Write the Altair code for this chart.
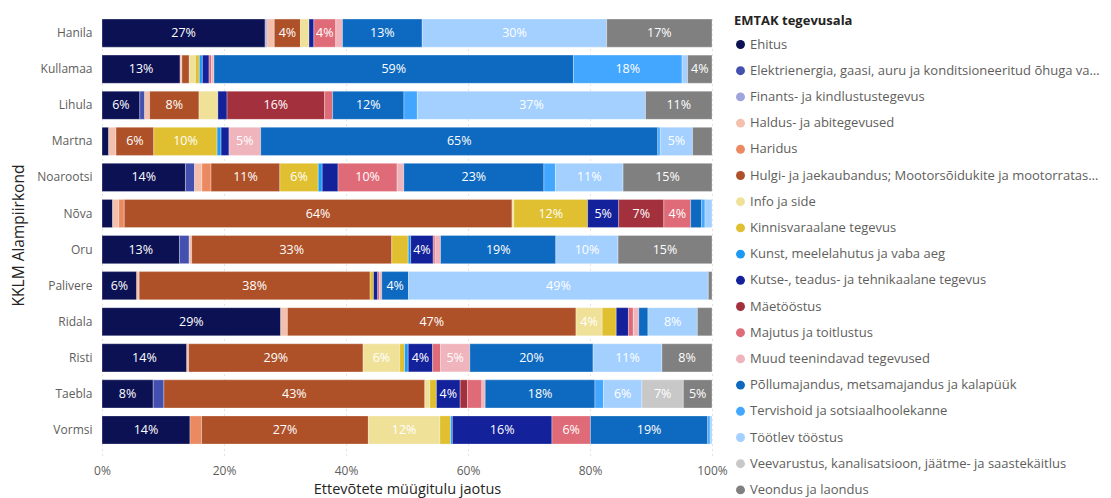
import altair as alt
import pandas as pd

regions = ["Hanila", "Kullamaa", "Lihula", "Martna", "Noarootsi", "Nõva",
           "Oru", "Palivere", "Ridala", "Risti", "Taebla", "Vormsi"]

categories = [
    "Ehitus",
    "Elektrienergia, gaasi, auru ja konditsioneeritud õhuga varustamine",
    "Finants- ja kindlustustegevus",
    "Haldus- ja abitegevused",
    "Haridus",
    "Hulgi- ja jaekaubandus; Mootorsõidukite ja mootorrataste remont",
    "Info ja side",
    "Kinnisvaraalane tegevus",
    "Kunst, meelelahutus ja vaba aeg",
    "Kutse-, teadus- ja tehnikaalane tegevus",
    "Mäetööstus",
    "Majutus ja toitlustus",
    "Muud teenindavad tegevused",
    "Põllumajandus, metsamajandus ja kalapüük",
    "Tervishoid ja sotsiaalhoolekanne",
    "Töötlev tööstus",
    "Veevarustus, kanalisatsioon, jäätme- ja saastekäitlus",
    "Veondus ja laondus",
]

colors = ["#0B1153", "#4350B0", "#A0A4DC", "#F4BFAB", "#EB8A60", "#AE5128",
          "#F0E199", "#E0C030", "#1E9AF5", "#13219A", "#A2303D", "#E06B78",
          "#F0B4BC", "#0E6AC0", "#43A6FF", "#A3D0FF", "#C8C8C8", "#808080"]

# share (%) per category, in category order
hanila    = [26.8, 0, 0.3, 1.2, 0, 4.3, 1.4, 0, 0, 0.8, 0, 3.6, 1.1, 13.1, 0, 30.3, 0, 17.3]
kullamaa  = [12.8, 0, 0, 0.3, 0, 1.2, 1.0, 0.65, 0.5, 1.1, 0, 0.4, 0.4, 58.9, 17.8, 0.9, 0, 4.0]
lihula    = [6.2, 0.8, 0, 0.8, 0, 8.1, 3.1, 0, 0, 1.5, 16.0, 1.3, 0, 11.7, 2.2, 37.4, 0, 10.9]
martna    = [1.1, 0, 0, 1.2, 0, 6.2, 0, 10.4, 0.65, 1.3, 0, 0, 5.2, 65.2, 0.4, 5.3, 0, 3.2]
noarootsi = [13.7, 1.5, 0, 1.2, 1.5, 11.3, 0, 6.3, 0.65, 2.6, 0, 9.7, 1.1, 23.0, 1.9, 11.1, 0, 14.6]
nova      = [1.75, 0, 0, 1.0, 0.9, 63.6, 0.3, 12.1, 0, 5.1, 7.4, 4.4, 0, 1.8, 0.55, 1.15, 0, 0]
oru       = [12.7, 1.6, 0, 0.4, 0, 32.8, 0, 2.7, 0.4, 3.7, 0, 0.3, 0.9, 18.9, 0, 10.2, 0, 15.4]
palivere  = [5.7, 0, 0, 0.4, 0, 37.9, 0, 0.55, 0, 0.7, 0, 0.3, 0.35, 4.4, 0, 49.2, 0, 0.6]
ridala    = [29.3, 0, 0, 1.1, 0, 47.3, 4.3, 2.3, 0, 2.0, 0, 0.8, 0.9, 1.5, 0, 8.1, 0, 2.4]
risti     = [13.9, 0, 0, 0.3, 0, 28.6, 6.0, 0.8, 0.6, 4.0, 0, 1.3, 4.8, 20.2, 0, 11.3, 0, 8.2]
taebla    = [8.4, 1.75, 0, 0, 0, 42.8, 0.8, 1.1, 0, 3.9, 1.2, 2.35, 0.55, 18.0, 1.4, 6.3, 6.8, 4.7]
vormsi    = [14.4, 0, 0, 0, 1.9, 27.3, 11.7, 1.75, 0.3, 16.3, 0, 6.3, 0, 19.2, 0.4, 0.3, 0, 0]

series = [hanila, kullamaa, lihula, martna, noarootsi, nova,
          oru, palivere, ridala, risti, taebla, vormsi]

rows = []
for r, vals in zip(regions, series):
    for i, (c, v) in enumerate(zip(categories, vals)):
        rows.append({"region": r, "category": c, "order": i, "value": v})
df = pd.DataFrame(rows)

FONT = "Segoe UI, Open Sans, sans-serif"

base = alt.Chart(df).transform_filter(
    "datum.value > 0"
).transform_stack(
    stack="value", groupby=["region"], as_=["x0", "x1"],
    offset="normalize", sort=[alt.SortField("order", order="ascending")]
)

yenc = alt.Y("region:N", sort=regions, title="KKLM Alampiirkond",
             scale=alt.Scale(paddingInner=0.22, paddingOuter=0.2075, align=0.27),
             axis=alt.Axis(domain=False, ticks=False, labelPadding=10,
                           labelFontSize=12, labelColor="#605E5C", labelFont=FONT,
                           titleFontSize=15.5, titleFont=FONT, titleColor="#252423",
                           titleFontWeight="normal", titleX=-76))

bars = base.mark_bar(stroke="white", strokeWidth=0.5, strokeOpacity=0.6).encode(
    x=alt.X("x0:Q", scale=alt.Scale(domain=[0, 1], nice=False),
            title="Ettevõtete müügitulu jaotus",
            axis=alt.Axis(format="%", values=[0, 0.2, 0.4, 0.6, 0.8, 1.0],
                          domain=False, ticks=False, labelPadding=10,
                          labelFlush=False,
                          labelFontSize=12, labelColor="#605E5C", labelFont=FONT,
                          grid=True, gridDash=[1, 4], gridColor="#C8C6C4",
                          titleFontSize=14.5, titleFont=FONT, titleColor="#252423",
                          titleFontWeight="normal", titlePadding=6)),
    x2="x1:Q",
    y=yenc,
    color=alt.Color("category:N", scale=alt.Scale(domain=categories, range=colors),
                    sort=categories,
                    legend=alt.Legend(title="EMTAK tegevusala", orient="none",
                                      legendX=632, legendY=0,
                                      symbolType="circle", symbolSize=80,
                                      symbolStrokeWidth=0, labelFontSize=13,
                                      labelOffset=3,
                                      labelColor="#605E5C", labelFont=FONT,
                                      labelLimit=350, rowPadding=12.2,
                                      titleFontSize=13, titleFont=FONT,
                                      titleColor="#252423", titleFontWeight="bold",
                                      titlePadding=10, titleLimit=400)),
    order=alt.Order("order:Q"),
)

labels = base.transform_calculate(
    mid="(datum.x0 + datum.x1) / 2",
    share="datum.x1 - datum.x0",
).transform_filter(
    "datum.share >= 0.035"
).transform_calculate(
    label="round(datum.share * 100) + '%'"
).mark_text(color="white", fontSize=12.5, font=FONT).encode(
    x=alt.X("mid:Q"),
    y=alt.Y("region:N", sort=regions),
    text="label:N",
)

chart = alt.layer(bars, labels).properties(
    width=610, height=440,
    autosize=alt.AutoSizeParams(type="none"),
    padding={"left": 94, "top": 7, "right": 391, "bottom": 43},
).configure_view(stroke=None)

chart.save("out.html", embed_options={"renderer": "svg", "actions": False})
